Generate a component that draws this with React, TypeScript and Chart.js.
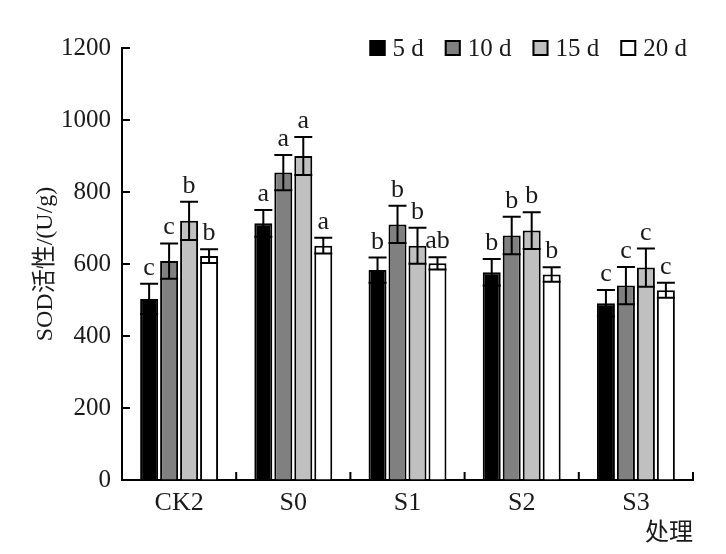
import { useEffect, useRef } from "react"
import { Chart, registerables } from "chart.js"

Chart.register(...registerables)

const categories = ["CK2", "S0", "S1", "S2", "S3"]
const seriesNames = ["5 d", "10 d", "15 d", "20 d"]
const seriesColors = ["#000000", "#808080", "#c0c0c0", "#ffffff"]

const values5 = [503, 713, 583, 577, 491]
const values10 = [608, 854, 710, 679, 540]
const values15 = [720, 900, 651, 693, 590]
const values20 = [622, 651, 602, 571, 527]

const errors5 = [42, 37, 35, 37, 37]
const errors10 = [49, 49, 52, 52, 52]
const errors15 = [53, 53, 50, 51, 53]
const errors20 = [19, 22, 17, 20, 21]

const letters5 = ["c", "a", "b", "b", "c"]
const letters10 = ["c", "a", "b", "b", "c"]
const letters15 = ["b", "a", "b", "b", "c"]
const letters20 = ["b", "a", "ab", "b", "c"]

const yTicks = [0, 200, 400, 600, 800, 1000, 1200]

const SERIF = "'Liberation Serif', 'Times New Roman', 'Noto Sans CJK SC', serif"
const TEXT = "#1a1a1a"

const allValues = [values5, values10, values15, values20]
const allErrors = [errors5, errors10, errors15, errors20]
const allLetters = [letters5, letters10, letters15, letters20]

// error bars, significance letters, inward ticks and the legend
const extrasPlugin = {
  id: "extras",
  afterDatasetsDraw(chart: Chart) {
    const ctx = chart.ctx
    const y = chart.scales.y
    const x = chart.scales.x
    const area = chart.chartArea
    ctx.save()
    ctx.strokeStyle = "#000"
    ctx.lineWidth = 2

    allValues.forEach((vals, i) => {
      const meta = chart.getDatasetMeta(i)
      meta.data.forEach((bar: any, j: number) => {
        const hi = y.getPixelForValue(vals[j] + allErrors[i][j])
        const lo = y.getPixelForValue(vals[j] - allErrors[i][j])
        const half = bar.width / 2
        ctx.beginPath()
        ctx.moveTo(bar.x, hi)
        ctx.lineTo(bar.x, lo)
        ctx.moveTo(bar.x - half, hi)
        ctx.lineTo(bar.x + half, hi)
        ctx.moveTo(bar.x - half, lo)
        ctx.lineTo(bar.x + half, lo)
        ctx.stroke()

        ctx.fillStyle = TEXT
        ctx.font = `26px ${SERIF}`
        ctx.textAlign = "center"
        ctx.textBaseline = "alphabetic"
        ctx.fillText(allLetters[i][j], bar.x, hi - 9)
      })
    })

    // inward ticks
    ctx.beginPath()
    yTicks.forEach((t) => {
      const py = y.getPixelForValue(t)
      ctx.moveTo(area.left, py)
      ctx.lineTo(area.left + 8, py)
    })
    const step = x.getPixelForValue(1) - x.getPixelForValue(0)
    categories.forEach((_, i) => {
      const px = x.getPixelForValue(i) + step / 2
      ctx.moveTo(px, area.bottom)
      ctx.lineTo(px, area.bottom - 8)
    })
    ctx.stroke()

    // legend
    ctx.font = `25px ${SERIF}`
    ctx.textBaseline = "middle"
    ctx.textAlign = "left"
    const box = 16
    const gapBox = 7
    const gapItem = 21
    const widths = seriesNames.map((n) => ctx.measureText(n).width)
    const total =
      widths.reduce((a, b) => a + b, 0) + seriesNames.length * (box + gapBox) + (seriesNames.length - 1) * gapItem
    let lx = area.right - 6 - total
    const ly = 48
    seriesNames.forEach((name, i) => {
      ctx.fillStyle = seriesColors[i]
      ctx.fillRect(lx, ly - box / 2, box, box)
      ctx.strokeRect(lx + 1, ly - box / 2 + 1, box - 2, box - 2)
      ctx.fillStyle = TEXT
      ctx.fillText(name, lx + box + gapBox, ly + 1)
      lx += box + gapBox + widths[i] + gapItem
    })
    ctx.restore()
  },
}

export default function App() {
  const chartRef = useRef<HTMLCanvasElement>(null)
  const chartInstance = useRef<Chart | null>(null)

  useEffect(() => {
    if (!chartRef.current) return
    if (chartInstance.current) {
      chartInstance.current.destroy()
    }
    const ctx = chartRef.current.getContext("2d")
    if (!ctx) return

    chartInstance.current = new Chart(ctx, {
      type: "bar",
      data: {
        labels: categories,
        datasets: seriesNames.map((name, i) => ({
          label: name,
          data: allValues[i],
          backgroundColor: seriesColors[i],
          borderColor: "#000",
          borderWidth: 2,
          categoryPercentage: 0.7,
          barPercentage: 0.9,
        })),
      },
      options: {
        animation: false,
        responsive: true,
        maintainAspectRatio: false,
        layout: { padding: { left: 0, right: 33, top: 48, bottom: 0 } },
        plugins: {
          legend: { display: false },
          tooltip: { enabled: false },
        },
        scales: {
          x: {
            grid: { display: false, drawTicks: false },
            border: { display: true, color: "#000", width: 2 },
            ticks: { color: TEXT, font: { family: SERIF, size: 26 }, padding: 8 },
            title: {
              display: true,
              text: "处理",
              align: "end",
              color: TEXT,
              font: { family: SERIF, size: 24 },
              padding: { top: 0, bottom: 6 },
            },
            afterFit: (scale: any) => {
              scale.height = 74
            },
          },
          y: {
            min: 0,
            max: 1200,
            grid: { drawOnChartArea: false, drawTicks: false },
            border: { display: true, color: "#000", width: 2 },
            afterBuildTicks: (scale: any) => {
              scale.ticks = yTicks.map((v) => ({ value: v }))
            },
            ticks: {
              color: TEXT,
              font: { family: SERIF, size: 25 },
              padding: 11,
              callback: (value: any) => String(value),
            },
            title: {
              display: true,
              text: "SOD活性/(U/g)",
              color: TEXT,
              font: { family: SERIF, size: 24 },
              padding: { top: 31, bottom: 0 },
            },
            afterFit: (scale: any) => {
              scale.width = 122
            },
          },
        },
      },
      plugins: [extrasPlugin],
    })

    return () => {
      if (chartInstance.current) {
        chartInstance.current.destroy()
        chartInstance.current = null
      }
    }
  }, [])

  return (
    <div style={{ position: "absolute", left: 0, top: 0, width: 726, height: 554, background: "#fff" }}>
      <canvas ref={chartRef} />
    </div>
  )
}
